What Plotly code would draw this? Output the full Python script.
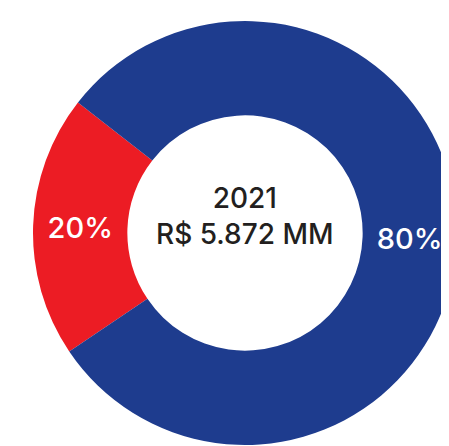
import plotly.graph_objects as go

segmentos = ["Vermelho", "Azul"]
percentuais = [20, 80]
cores = ["#ec1c24", "#1e3c8e"]
ano = "2021"
total = "R$ 5.872 MM"

fig = go.Figure()
fig.add_trace(
    go.Pie(
        labels=segmentos,
        values=percentuais,
        hole=0.555,
        sort=False,
        direction="counterclockwise",
        rotation=-124,
        marker=dict(colors=cores, line=dict(width=0)),
        texttemplate="%{percent:.0%}",
        textposition="inside",
        insidetextorientation="horizontal",
        textfont=dict(family="Inter", size=29, color="white", weight=500),
        showlegend=False,
        hoverinfo="label+percent",
    )
)
fig.add_annotation(
    text=f"{ano}<br>{total}",
    x=0.5,
    y=0.54,
    xref="paper",
    yref="paper",
    showarrow=False,
    font=dict(family="Inter", size=28, color="#231f20", weight=500),
)
fig.update_layout(
    width=449,
    height=446,
    margin=dict(l=25, r=0, t=13, b=9),
    paper_bgcolor="white",
    plot_bgcolor="white",
)
fig.write_html("out.html")
